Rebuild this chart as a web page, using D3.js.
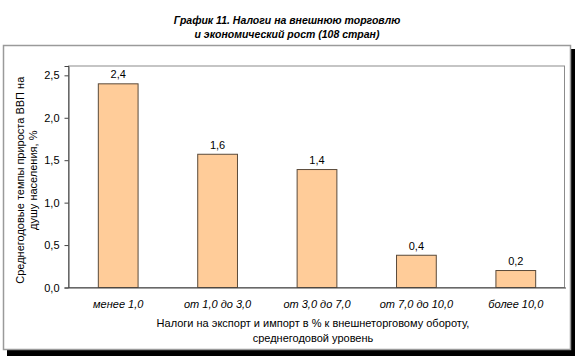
<!DOCTYPE html>
<html><head><meta charset="utf-8">
<script src="https://cdn.jsdelivr.net/npm/d3@7"></script>
<style>
html,body{margin:0;padding:0;background:#fff;}
svg{display:block;font-family:Arial,"Liberation Sans",sans-serif;}
</style></head>
<body>
<svg id="chart" width="575" height="356"></svg>
<script>
const titleLines = ["График 11. Налоги на внешнюю торговлю", "и экономический рост (108 стран)"];
const categories = ["менее 1,0", "от 1,0 до 3,0", "от 3,0 до 7,0", "от 7,0 до 10,0", "более 10,0"];
const values = [2.4, 1.57, 1.39, 0.38, 0.2];
const valueLabels = ["2,4", "1,6", "1,4", "0,4", "0,2"];
const yTicks = [0, 0.5, 1.0, 1.5, 2.0, 2.5];
const yTitleLines = ["Среднегодовые темпы прироста ВВП на", "душу населения, %"];
const xTitleLines = ["Налоги на экспорт и импорт в % к внешнеторговому обороту,", "среднегодовой уровень"];

const svg = d3.select("#chart");
const plot = {left: 68, right: 565, top: 65.5, bottom: 287};

// outer frame with shadow
svg.append("rect").attr("x", 7).attr("y", 49).attr("width", 568).attr("height", 307).attr("fill", "#000");
svg.append("rect").attr("x", 3.5).attr("y", 45.5).attr("width", 567).attr("height", 304)
  .attr("fill", "#fff").attr("stroke", "#9a9a9a").attr("stroke-width", 1.5);

// title
svg.append("g").selectAll("text").data(titleLines).join("text")
  .attr("x", 287).attr("y", (d, i) => 24 + i * 14)
  .attr("text-anchor", "middle").attr("font-size", 10.5)
  .attr("font-weight", "bold").attr("font-style", "italic").attr("fill", "#000")
  .text(d => d);

const x = d3.scaleBand().domain(categories).range([plot.left, plot.right]).paddingInner(0.6).paddingOuter(0.3);
const y = d3.scaleLinear().domain([0, 2.61]).range([plot.bottom, plot.top]);

// plot area border
svg.append("rect").attr("x", plot.left + 0.5).attr("y", plot.top + 0.5)
  .attr("width", plot.right - plot.left - 1).attr("height", plot.bottom - plot.top)
  .attr("fill", "none").attr("stroke", "#8c8c8c").attr("stroke-width", 1);

// bars
svg.append("g").selectAll("rect").data(values).join("rect")
  .attr("x", (d, i) => x(categories[i]) + 0.5)
  .attr("y", d => y(d) + 0.5)
  .attr("width", x.bandwidth())
  .attr("height", d => y(0) - y(d))
  .attr("fill", "#FFCC99").attr("stroke", "#5a4a3a").attr("stroke-width", 1);

// value labels
svg.append("g").selectAll("text").data(values).join("text")
  .attr("x", (d, i) => x(categories[i]) + x.bandwidth() / 2 + 0.5)
  .attr("y", d => y(d) - 5)
  .attr("text-anchor", "middle").attr("font-size", 11).attr("fill", "#000")
  .text((d, i) => valueLabels[i]);

// y axis
const yAxis = d3.axisLeft(y).tickValues(yTicks).tickSize(4).tickPadding(5)
  .tickFormat(d => d3.format(".1f")(d).replace(".", ","));
const gy = svg.append("g").attr("transform", `translate(${plot.left + 0.5},0.5)`).call(yAxis);
gy.select(".domain").attr("stroke", "#444");
gy.selectAll(".tick line").attr("stroke", "#444");
gy.selectAll(".tick text").attr("font-size", 11).attr("fill", "#000").attr("font-family", "Arial, 'Liberation Sans', sans-serif");

// x axis
const xAxis = d3.axisBottom(x).tickSize(0).tickPadding(13);
const gx = svg.append("g").attr("transform", `translate(0.5,${plot.bottom + 0.5})`).call(xAxis);
gx.select(".domain").attr("stroke", "#444");
gx.selectAll(".tick text").attr("font-size", 11).attr("font-style", "italic").attr("fill", "#000")
  .attr("font-family", "Arial, 'Liberation Sans', sans-serif");

// x title
svg.append("g").selectAll("text").data(xTitleLines).join("text")
  .attr("x", 313).attr("y", (d, i) => 327 + i * 15)
  .attr("text-anchor", "middle").attr("font-size", 11).attr("fill", "#000")
  .text(d => d);

// y title
svg.append("g").attr("transform", `translate(0,${(plot.top + plot.bottom) / 2 + 4}) rotate(-90)`)
  .selectAll("text").data(yTitleLines).join("text")
  .attr("x", 0).attr("y", (d, i) => 24 + i * 13)
  .attr("text-anchor", "middle").attr("font-size", 11).attr("fill", "#000")
  .text(d => d);
</script>
</body></html>
